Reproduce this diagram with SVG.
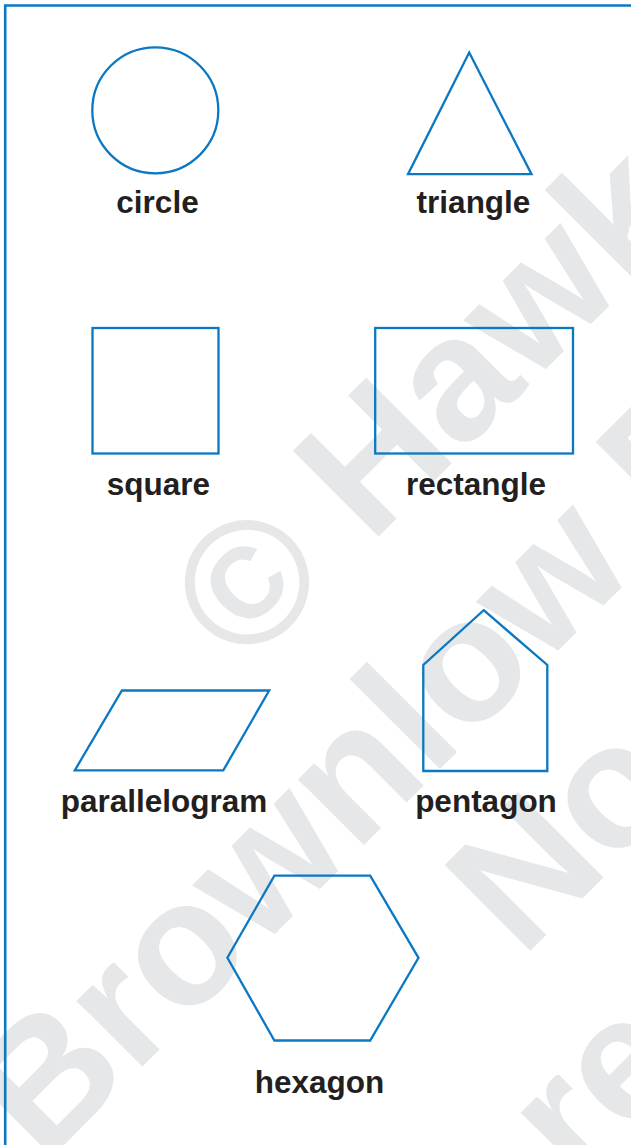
<svg xmlns="http://www.w3.org/2000/svg" width="631" height="1145" viewBox="0 0 631 1145">
<style>
.wm{font-family:"Liberation Sans",Arial,sans-serif;font-weight:bold;font-size:176px;fill:#e6e7e8}
.shape{fill:none;stroke:#0a78c2;stroke-width:2.3;stroke-linejoin:miter}
.lbl{font-family:"Liberation Sans",Arial,sans-serif;font-weight:bold;font-size:31.5px;fill:#231f20;text-anchor:middle}
</style>
<rect x="0" y="0" width="631" height="1145" fill="#ffffff"/>
<g id="watermark">
<text class="wm" transform="translate(244,671) rotate(-45)">© Hawk</text>
<text class="wm" transform="translate(44,1165) rotate(-45)">Brownlow E</text>
<text class="wm" transform="translate(522,959) rotate(-45)">No</text>
<text class="wm" transform="translate(578,1187) rotate(-45)">re</text>
</g>
<g id="frame">
<path d="M5.2,1145 V5.5 H631" fill="none" stroke="#0a78c2" stroke-width="2.6"/>
</g>
<g id="circle">
<circle class="shape" cx="155.3" cy="110.3" r="63"/>
<text class="lbl" x="157.5" y="213">circle</text>
</g>
<g id="triangle">
<polygon class="shape" points="469.2,52.5 531.5,174.2 408,174.2"/>
<text class="lbl" x="473.5" y="213">triangle</text>
</g>
<g id="square">
<rect class="shape" x="92.5" y="328" width="126" height="125.5"/>
<text class="lbl" x="158.3" y="495">square</text>
</g>
<g id="rectangle">
<rect class="shape" x="375.2" y="328" width="197.8" height="125.5"/>
<text class="lbl" x="476" y="495">rectangle</text>
</g>
<g id="parallelogram">
<polygon class="shape" points="121.9,690.5 269.2,690.5 223.3,770.3 74.8,770.3"/>
<text class="lbl" x="164" y="812">parallelogram</text>
</g>
<g id="pentagon">
<polygon class="shape" points="483.7,610.2 547.3,665 547.3,771 423.3,771 423.3,665"/>
<text class="lbl" x="486" y="812">pentagon</text>
</g>
<g id="hexagon">
<polygon class="shape" points="274.4,875.6 370.2,875.6 418.5,957.8 370.2,1040.5 274.4,1040.5 227.4,957.8"/>
<text class="lbl" x="319.5" y="1093">hexagon</text>
</g>
</svg>
